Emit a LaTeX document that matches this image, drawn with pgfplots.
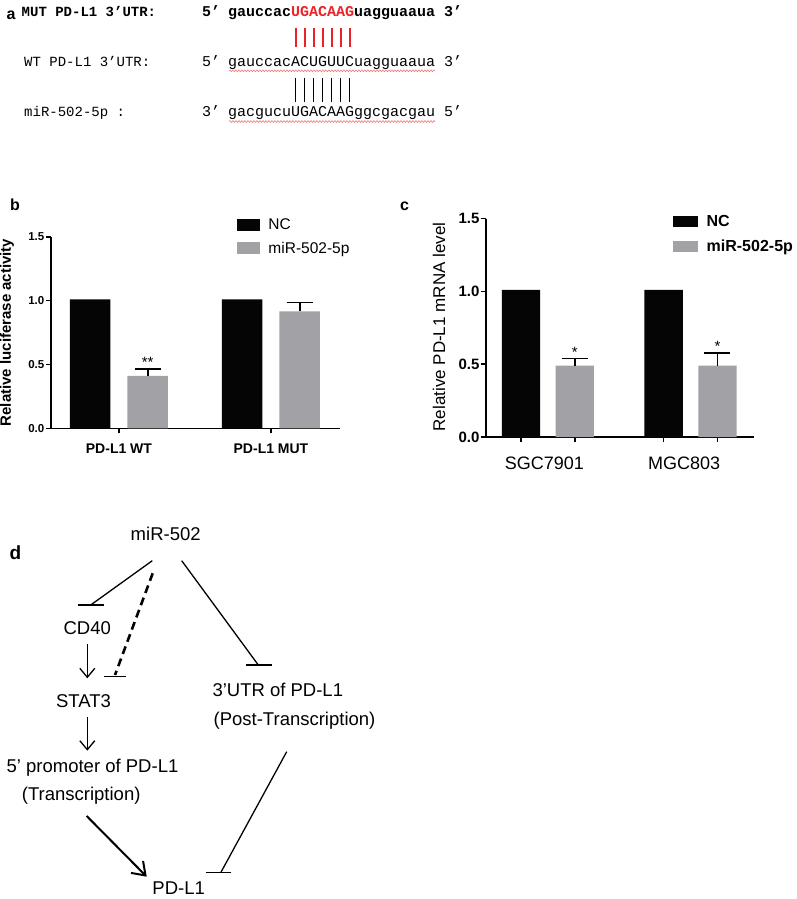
\documentclass[border=0pt]{standalone}
\usepackage{pgfplots}
\pgfplotsset{compat=1.18}
\usepackage{fontspec}
\setmainfont{Liberation Sans}
\newfontfamily\monofont{Liberation Mono}
\usetikzlibrary{arrows.meta,decorations.pathmorphing}
\definecolor{barblack}{RGB}{5,5,5}
\definecolor{bargray}{RGB}{162,162,166}
\definecolor{seqred}{RGB}{232,36,40}
\definecolor{wavy}{RGB}{240,120,120}
\newcommand{\fs}[1]{\fontsize{#1}{#1}\selectfont}

\pgfplotstableread{
x   nc    mir   mirerr
1   1.01  0.41  0.055
2   1.01  0.915 0.070
}\lucdata
\pgfplotstableread{
x   nc    mir   mirerr
1   1.01  0.49  0.050
2   1.01  0.49  0.085
}\mrnadata

\begin{document}
\begin{tikzpicture}[x=1pt,y=1pt]
\useasboundingbox (0pt,0pt) rectangle (797pt,-899pt);
\fill[white] (0pt,0pt) rectangle (797pt,-899pt);

% ---------------- panel a ----------------
\node[anchor=base west, inner sep=0, font=\bfseries\fs{16}] at (6.5,-20) {a};
\node[anchor=base west, inner sep=0, font=\monofont\bfseries\fs{14}] at (21.5,-16.7) {MUT PD-L1 3’UTR:};
\node[anchor=base west, inner sep=0, font=\monofont\fs{14}] at (24,-66.7) {WT PD-L1 3’UTR:};
\node[anchor=base west, inner sep=0, font=\monofont\fs{14}] at (24,-116.7) {miR-502-5p :};
\node[anchor=base west, inner sep=0, font=\monofont\bfseries\fs{15}] at (202,-16.7) {5’};
\node[anchor=base west, inner sep=0, font=\monofont\fs{15}] at (202,-66.7) {5’};
\node[anchor=base west, inner sep=0, font=\monofont\fs{15}] at (202,-116.7) {3’};
\node[anchor=base west, inner sep=0, font=\monofont\bfseries\fs{15}] at (228,-16.7) {gauccac\textcolor{seqred}{UGACAAG}uagguaaua 3’};
\node[anchor=base west, inner sep=0, font=\monofont\fs{15}] at (228,-66.7) {gauccacACUGUUCuagguaaua 3’};
\node[anchor=base west, inner sep=0, font=\monofont\fs{15}] at (228,-116.7) {gacgucuUGACAAGggcgacgau 5’};
\draw[wavy, line width=0.6pt, decorate, decoration={snake, amplitude=0.9pt, segment length=3pt}] (229,-70.8) -- (435,-70.8);
\draw[wavy, line width=0.6pt, decorate, decoration={snake, amplitude=0.9pt, segment length=3pt}] (229,-121.5) -- (435,-121.5);
\foreach \i in {0,...,6} {
  \draw[seqred, line width=2pt] (295.5+9*\i,-28.3) -- (295.5+9*\i,-46.7);
  \draw[black, line width=1.8pt] (295.5+9*\i,-78.3) -- (295.5+9*\i,-101.7);
}

% ---------------- panel b ----------------
\node[anchor=base west, inner sep=0, font=\bfseries\fs{16}] at (10,-210) {b};
\node[rotate=90, font=\bfseries\fs{15}] at (7,-332.5) {Relative luciferase activity};
\begin{axis}[
  at={(51pt,-428.3pt)}, anchor=south west,
  scale only axis, width=289pt, height=191.5pt,
  xmin=0.553, xmax=2.454, ymin=0, ymax=1.5,
  axis x line*=bottom, axis y line*=left,
  axis line style={-, line width=1.6pt, black},
  xtick={1,2}, xticklabels={PD-L1 WT,PD-L1 MUT},
  ytick={0,0.5,1,1.5},
  /pgf/number format/assume math mode=true,
  yticklabel style={/pgf/number format/.cd, fixed, fixed zerofill, precision=1, /tikz/.cd, font=\bfseries\fs{11.5}, inner xsep=1.5pt},
  xticklabel style={font=\bfseries\fs{14}, yshift=-7pt},
  tick align=outside, major tick length=5pt,
  tick style={line width=1.6pt, black},
  ybar, bar width=40.5pt,
  clip=false,
  legend cell align=left,
  legend style={draw=none, fill=none, inner sep=0pt, outer sep=0pt, row sep=10.5pt,
    nodes={inner sep=0pt}, font=\fs{15.5},
    at={(axis description cs:0.6435,1.0924)}, anchor=north west},
]
\addplot[fill=barblack, draw=none, bar shift=-28.75pt,
  legend image code/.code={\fill[barblack] (0pt,-5.85pt) rectangle (23pt,5.85pt);}]
  table[x=x, y=nc] {\lucdata};
\addlegendentry{\hspace{8.5pt}NC}
\addplot[fill=bargray, draw=none, bar shift=28.75pt,
  legend image code/.code={\fill[bargray] (0pt,-5.85pt) rectangle (23pt,5.85pt);},
  error bars/.cd, y dir=plus, y explicit,
  error bar style={line width=1.6pt, black},
  error mark options={rotate=90, mark size=13pt, line width=1.6pt, black}]
  table[x=x, y=mir, y error=mirerr] {\lucdata};
\addlegendentry{\hspace{8.5pt}miR-502-5p}
\node[anchor=base, inner sep=0, font=\fs{15}] at (axis cs:1.189,0.475) {**};
\end{axis}

% ---------------- panel c ----------------
\node[anchor=base west, inner sep=0, font=\bfseries\fs{16}] at (400,-210) {c};
\node[rotate=90, font=\fs{17}] at (439,-327) {Relative PD-L1 mRNA level};
\begin{axis}[
  at={(485.7pt,-437pt)}, anchor=south west,
  scale only axis, width=268.3pt, height=218.5pt,
  xmin=0.564, xmax=2.445, ymin=0, ymax=1.5,
  axis x line*=bottom, axis y line*=left,
  axis line style={-, line width=1.6pt, black},
  xtick={0.8114,1.1886,1.8114,2.1886}, xticklabels={,,,},
  extra x ticks={0.975,1.955}, extra x tick labels={SGC7901,MGC803},
  extra x tick style={major tick length=0pt, xticklabel style={font=\fs{18}, yshift=-16pt}},
  ytick={0,0.5,1,1.5},
  /pgf/number format/assume math mode=true,
  yticklabel style={/pgf/number format/.cd, fixed, fixed zerofill, precision=1, /tikz/.cd, font=\bfseries\fs{15}, inner xsep=1pt},
  tick align=outside, major tick length=5pt,
  tick style={line width=1.6pt, black},
  ybar, bar width=38.3pt,
  clip=false,
  legend cell align=left,
  legend style={draw=none, fill=none, inner sep=0pt, outer sep=0pt, row sep=11.5pt,
    nodes={inner sep=0pt}, font=\bfseries\fs{16},
    at={(axis description cs:0.698,1.0135)}, anchor=north west},
]
\addplot[fill=barblack, draw=none, bar shift=-26.9pt,
  legend image code/.code={\fill[barblack] (0pt,-5.5pt) rectangle (24.7pt,5.5pt);}]
  table[x=x, y=nc] {\mrnadata};
\addlegendentry{\hspace{9pt}NC}
\addplot[fill=bargray, draw=none, bar shift=26.9pt,
  legend image code/.code={\fill[bargray] (0pt,-5.5pt) rectangle (24.7pt,5.5pt);},
  error bars/.cd, y dir=plus, y explicit,
  error bar style={line width=1.6pt, black},
  error mark options={rotate=90, mark size=13pt, line width=1.6pt, black}]
  table[x=x, y=mir, y error=mirerr] {\mrnadata};
\addlegendentry{\hspace{9pt}miR-502-5p}
\node[anchor=base, inner sep=0, font=\fs{15}] at (axis cs:1.1886,0.548) {*};
\node[anchor=base, inner sep=0, font=\fs{15}] at (axis cs:2.1886,0.588) {*};
\end{axis}

% ---------------- panel d ----------------
\node[anchor=base west, inner sep=0, font=\bfseries\fs{19}] at (9.3,-559.3) {d};
\begin{scope}[every node/.style={anchor=base, inner sep=0, font=\fs{18.5}}]
\node at (165.7,-540) {miR-502};
\node at (87.2,-634.5) {CD40};
\node at (83.5,-707.7) {STAT3};
\node at (92.5,-772.7) {5’ promoter of PD-L1};
\node at (81.2,-800.9) {(Transcription)};
\node at (277.8,-696.7) {3’UTR of PD-L1};
\node at (294.5,-725.3) {(Post-Transcription)};
\node at (178.7,-894.5) {PD-L1};
\end{scope}
\draw[line width=1.3pt] (152.3,-560.7) -- (90.7,-605);
\draw[line width=1.3pt] (77.7,-605) -- (104,-605);
\draw[line width=2.6pt, dash pattern=on 8pt off 5pt] (152.7,-573.3) -- (115,-675);
\draw[line width=1.3pt] (104.3,-676.7) -- (125.7,-676.7);
\draw[line width=1.3pt] (181.7,-560.7) -- (258.3,-665);
\draw[line width=1.3pt] (246,-665) -- (272.3,-665);
\draw[line width=1.3pt, -{Straight Barb[length=9pt,width=15pt]}] (87.3,-644) -- (87.3,-678.3);
\draw[line width=1.3pt, -{Straight Barb[length=9pt,width=15pt]}] (87.3,-717.3) -- (87.3,-750.7);
\draw[line width=2pt, -{Straight Barb[length=12pt,width=17pt]}] (86.7,-816) -- (146.7,-876.7);
\draw[line width=1.3pt] (286.7,-751.7) -- (220.7,-872.7);
\draw[line width=1.3pt] (205.7,-872.7) -- (231,-872.7);
\end{tikzpicture}
\end{document}
